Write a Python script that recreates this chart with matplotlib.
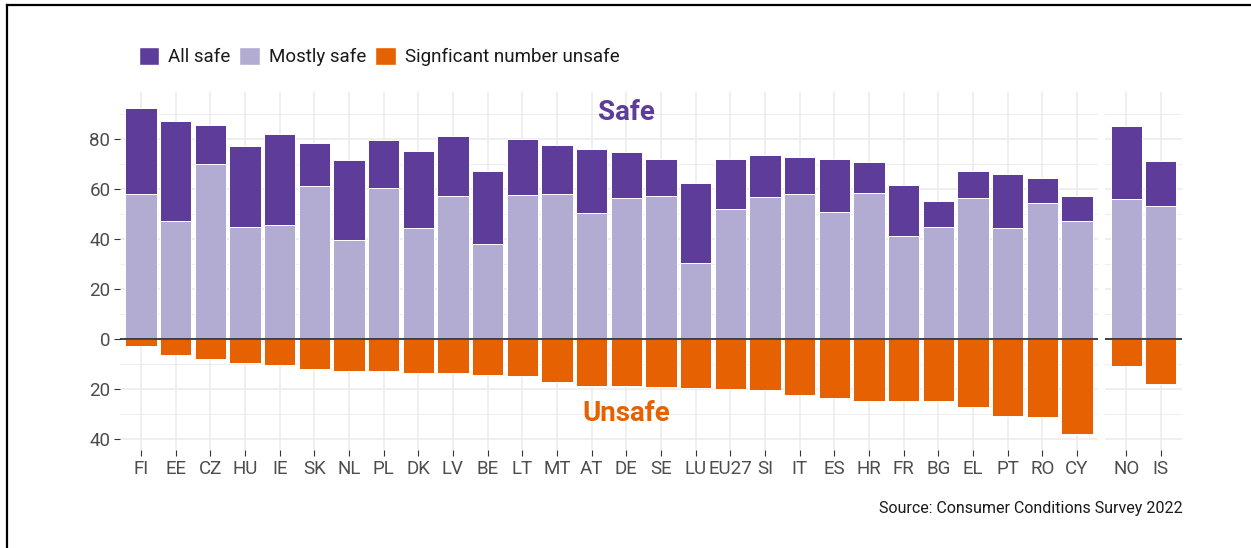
import numpy as np
import matplotlib.pyplot as plt
from matplotlib.lines import Line2D
from matplotlib.patches import Patch

plt.rcParams['font.family'] = ['Roboto', 'DejaVu Sans']

countries = ['FI', 'EE', 'CZ', 'HU', 'IE', 'SK', 'NL', 'PL', 'DK', 'LV', 'BE', 'LT',
             'MT', 'AT', 'DE', 'SE', 'LU', 'EU27', 'SI', 'IT', 'ES', 'HR', 'FR', 'BG',
             'EL', 'PT', 'RO', 'CY', 'NO', 'IS']
mostly_safe = [57.9, 47.2, 69.9, 44.7, 45.5, 61.2, 39.7, 60.4, 44.3, 57.1, 38.1, 57.5,
               57.9, 50.4, 56.3, 57.1, 30.3, 52.1, 56.7, 57.9, 50.8, 58.3, 41.3, 44.7,
               56.3, 44.3, 54.5, 47.2, 55.9, 53.3]
all_safe = [34.6, 40.0, 15.6, 32.6, 36.6, 17.3, 31.8, 19.3, 30.9, 24.2, 29.2, 22.6,
            19.8, 25.6, 18.5, 14.8, 32.1, 19.8, 16.9, 14.8, 21.1, 12.4, 20.3, 10.6,
            11.0, 21.8, 9.9, 10.1, 29.2, 17.8]
unsafe = [2.7, 6.4, 8.0, 9.7, 10.5, 12.1, 12.9, 12.9, 13.5, 13.5, 14.3, 14.7,
          17.1, 18.7, 18.7, 19.1, 19.6, 20.0, 20.4, 22.4, 23.7, 24.9, 24.9, 24.9,
          27.3, 30.7, 31.1, 38.0, 10.8, 17.9]
n_eu = 28  # FI..CY in the first panel, NO and IS in the second

c_all = '#5e3c99'
c_mostly = '#b2abd2'
c_unsafe = '#e66101'
grid_c = '#ebebeb'
tick_c = '#4d4d4d'

W, H = 1251, 548
fig = plt.figure(figsize=(W / 100, H / 100), dpi=100)


def px_axes(x0, x1, y0, y1):
    return fig.add_axes([x0 / W, 1 - y1 / H, (x1 - x0) / W, (y1 - y0) / H])


ax1 = px_axes(120.2, 1097.8, 91.5, 450.3)
ax2 = px_axes(1105.4, 1181.6, 91.5, 450.3)

groups = [(ax1, slice(0, n_eu)), (ax2, slice(n_eu, len(countries)))]
for ax, sl in groups:
    labs = countries[sl]
    ms = np.array(mostly_safe[sl])
    al = np.array(all_safe[sl])
    un = np.array(unsafe[sl])
    x = np.arange(len(labs))
    kw = dict(width=0.9, edgecolor='white', linewidth=0.7, zorder=3)
    ax.bar(x, ms, color=c_mostly, **kw)
    ax.bar(x, al, bottom=ms, color=c_all, **kw)
    ax.bar(x, -un, color=c_unsafe, **kw)
    ax.axhline(0, color='#333333', lw=1.3, zorder=4)

    ax.set_xlim(-0.6, len(labs) - 0.4)
    ax.set_ylim(-44.5, 99)
    ax.set_xticks(x)
    ax.set_xticklabels(labs)
    ax.set_yticks([-40, -20, 0, 20, 40, 60, 80])
    ax.set_yticks([-30, -10, 10, 30, 50, 70, 90], minor=True)
    ax.grid(True, which='major', color=grid_c, lw=1.1, zorder=0)
    ax.grid(True, which='minor', axis='y', color=grid_c, lw=0.6, zorder=0)
    ax.set_axisbelow(True)
    for s in ax.spines.values():
        s.set_visible(False)
    ax.tick_params(axis='both', which='major', length=4, width=0.8, color='#333333',
                   labelcolor=tick_c, labelsize=13.5, pad=3)
    ax.tick_params(axis='y', which='minor', length=0)

ax1.set_yticklabels(['40', '20', '0', '20', '40', '60', '80'])
ax2.tick_params(axis='y', which='major', length=0, labelleft=False)

ax1.text(14, 90.5, 'Safe', color=c_all, fontsize=20, fontweight='bold',
         ha='center', va='center', zorder=5)
ax1.text(14, -29.8, 'Unsafe', color=c_unsafe, fontsize=20, fontweight='bold',
         ha='center', va='center', zorder=5)

handles = [Patch(facecolor=c_all, edgecolor='white', label='All safe'),
           Patch(facecolor=c_mostly, edgecolor='white', label='Mostly safe'),
           Patch(facecolor=c_unsafe, edgecolor='white', label='Signficant number unsafe')]
leg = fig.legend(handles=handles, ncol=3, loc='center left',
                 bbox_to_anchor=(131 / W, 1 - 56.5 / H), frameon=False,
                 fontsize=13.5, handlelength=1.1, handleheight=1.1,
                 handletextpad=0.5, columnspacing=0.45, borderaxespad=0)
for t in leg.get_texts():
    t.set_color('#1a1a1a')

fig.text(1183 / W, 1 - 508 / H, 'Source: Consumer Conditions Survey 2022',
         ha='right', va='center', fontsize=11.5, color='#1a1a1a')

# frame round the figure (only top and left edges are visible)
fig.add_artist(Line2D([7 / W, 7 / W], [0, 1 - 5 / H], color='black', lw=1.6))
fig.add_artist(Line2D([7 / W, 1], [1 - 5 / H, 1 - 5 / H], color='black', lw=1.6))

fig.savefig('out.png', dpi=100, facecolor='white')
